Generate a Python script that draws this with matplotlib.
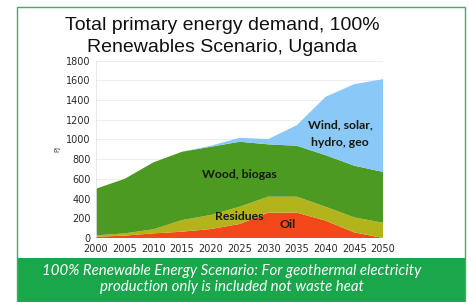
import matplotlib
matplotlib.use("Agg")
import matplotlib.pyplot as plt
from matplotlib.patches import Rectangle

years = [2000, 2005, 2010, 2015, 2020, 2025, 2030, 2035, 2040, 2045, 2050]
oil = [13, 24, 47, 64, 91, 142, 257, 257, 176, 57, 0]
residues = [14, 23, 41, 118, 142, 175, 162, 162, 141, 152, 155]
wood_biogas = [473, 553, 679, 693, 692, 659, 531, 516, 523, 524, 515]
wind_solar = [0, 0, 0, 0, 10, 40, 53, 210, 592, 827, 941]
y_ticks = [0, 200, 400, 600, 800, 1000, 1200, 1400, 1600, 1800]

colors = ["#f5481a", "#b3b41b", "#4c9a22", "#8ac8f8"]

fig = plt.figure(figsize=(4.69, 3.02), dpi=100)
fig.patch.set_facecolor("white")

W, H = 469, 302
# green caption band and border
fig.patches.append(Rectangle((16.5 / W, 0), (464.5 - 16.5) / W, (302 - 258) / H,
                             transform=fig.transFigure, facecolor="#1aa64a",
                             edgecolor="none", zorder=0))
fig.patches.append(Rectangle((16.5 / W, 0), (464.5 - 16.5) / W, (302 - 7.3) / H,
                             transform=fig.transFigure, facecolor="none",
                             edgecolor="#3fae62", linewidth=1.0, zorder=1))

ax = fig.add_axes([96 / W, (302 - 238) / H, (383 - 96) / W, (238 - 60.5) / H])
ax.stackplot(years, oil, residues, wood_biogas, wind_solar, colors=colors,
             linewidth=0, zorder=2)
ax.set_xlim(2000, 2050)
ax.set_ylim(0, 1800)
ax.set_xticks(years)
ax.set_yticks(y_ticks)
ax.tick_params(length=0, labelsize=7, colors="#2a2a2a", pad=4)
for s in ["top", "right", "bottom"]:
    ax.spines[s].set_visible(False)
ax.spines["left"].set_color("#e4e4e4")
ax.spines["left"].set_linewidth(0.6)
ax.grid(axis="y", color="#ececec", linewidth=0.6, zorder=0)
ax.set_axisbelow(True)
ax.set_ylabel("PJ", fontsize=5, color="#444444", labelpad=4)

fig.text(222 / W, 1 - 25 / H, "Total primary energy demand, 100%",
         ha="center", va="center", fontsize=14, family="Liberation Sans", color="#111111")
fig.text(222 / W, 1 - 47 / H, "Renewables Scenario, Uganda",
         ha="center", va="center", fontsize=14, family="Liberation Sans", color="#111111")

lab = dict(ha="center", va="center", fontsize=8.8, fontweight="bold", family="Lato", color="#141a10")
fig.text(340 / W, 1 - 125 / H, "Wind, solar,", **lab)
fig.text(340 / W, 1 - 142 / H, "hydro, geo", **lab)
fig.text(239 / W, 1 - 175 / H, "Wood, biogas", **lab)
fig.text(239 / W, 1 - 217 / H, "Residues", **lab)
fig.text(288 / W, 1 - 225 / H, "Oil", **lab)

cap = dict(ha="center", va="center", fontsize=10.8, style="italic", family="Lato", color="white")
fig.text(232 / W, 1 - 271 / H, "100% Renewable Energy Scenario: For geothermal electricity", **cap)
fig.text(232 / W, 1 - 287 / H, "production only is included not waste heat", **cap)

fig.savefig("out.png", dpi=100)
